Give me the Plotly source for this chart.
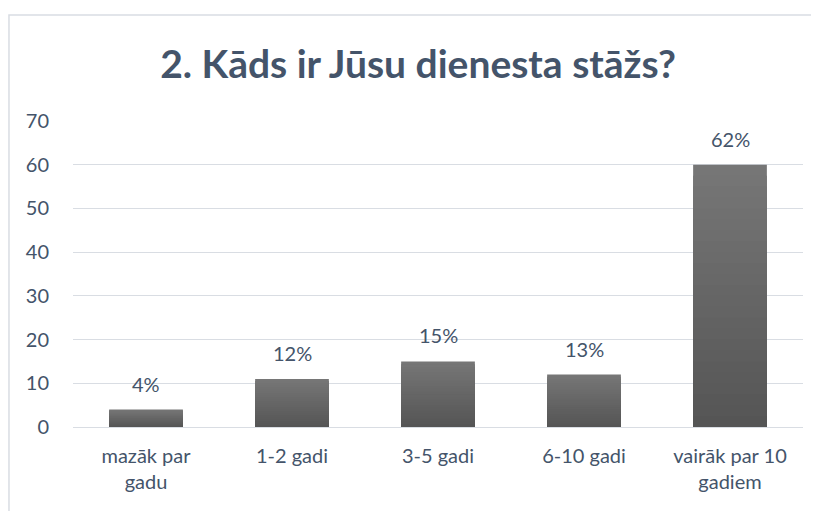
import plotly.graph_objects as go

categories = ["mazāk par<br>gadu", "1-2 gadi", "3-5 gadi", "6-10 gadi", "vairāk par 10<br>gadiem"]
values = [4, 11, 15, 12, 60]
value_labels = ["4%", "12%", "15%", "13%", "62%"]
y_ticks = [0, 10, 20, 30, 40, 50, 60, 70]

TEXT = "#44546A"
GRID = "#D9DDE3"
FONT = "Lato"

fig = go.Figure()

# gradient effect: overlaid bars of decreasing height, darker toward the base
N = 24
top_rgb = (118, 118, 118)
bot_rgb = (84, 84, 84)
for k in range(N, 0, -1):
    f = k / N
    c = tuple(int(round(bot_rgb[i] + (top_rgb[i] - bot_rgb[i]) * f)) for i in range(3))
    fig.add_trace(go.Bar(
        x=categories,
        y=[v * f for v in values],
        marker=dict(color="rgb(%d,%d,%d)" % c, line=dict(width=0)),
        width=0.505,
        hoverinfo="skip" if k != N else None,
        showlegend=False,
    ))

for cat, v, lab in zip(categories, values, value_labels):
    fig.add_annotation(x=cat, y=v, text=lab, showarrow=False,
                       yanchor="bottom", yshift=12,
                       font=dict(family=FONT, size=20, color=TEXT))

fig.update_layout(
    barmode="overlay",
    width=811, height=503,
    margin=dict(l=65, r=16, t=113, b=84),
    paper_bgcolor="white",
    plot_bgcolor="white",
    font=dict(family=FONT, size=20, color=TEXT),
    title=dict(text="<b>2. Kāds ir Jūsu dienesta stāžs?</b>",
               x=0.5056, xanchor="center", xref="container",
               y=0.887, yanchor="middle", yref="container",
               font=dict(family=FONT, size=39, color=TEXT)),
    xaxis=dict(showgrid=False, showline=False, ticks="",
               tickfont=dict(family=FONT, size=20, color=TEXT),
               ticklabelstandoff=15),
    yaxis=dict(range=[0, 70], tickvals=y_ticks, showgrid=True,
               gridcolor=GRID, gridwidth=1, zeroline=True,
               zerolinecolor=GRID, zerolinewidth=1, showline=False,
               ticks="", tickfont=dict(family=FONT, size=20, color=TEXT),
               ticklabelstandoff=23),
    shapes=[dict(type="rect", xref="paper", yref="paper",
                 x0=-0.0877, x1=1.2, y0=-0.4, y1=1.346,
                 line=dict(color="#D9DDE3", width=1.5),
                 fillcolor="rgba(0,0,0,0)", layer="below")],
)

fig.write_html("out.html")
